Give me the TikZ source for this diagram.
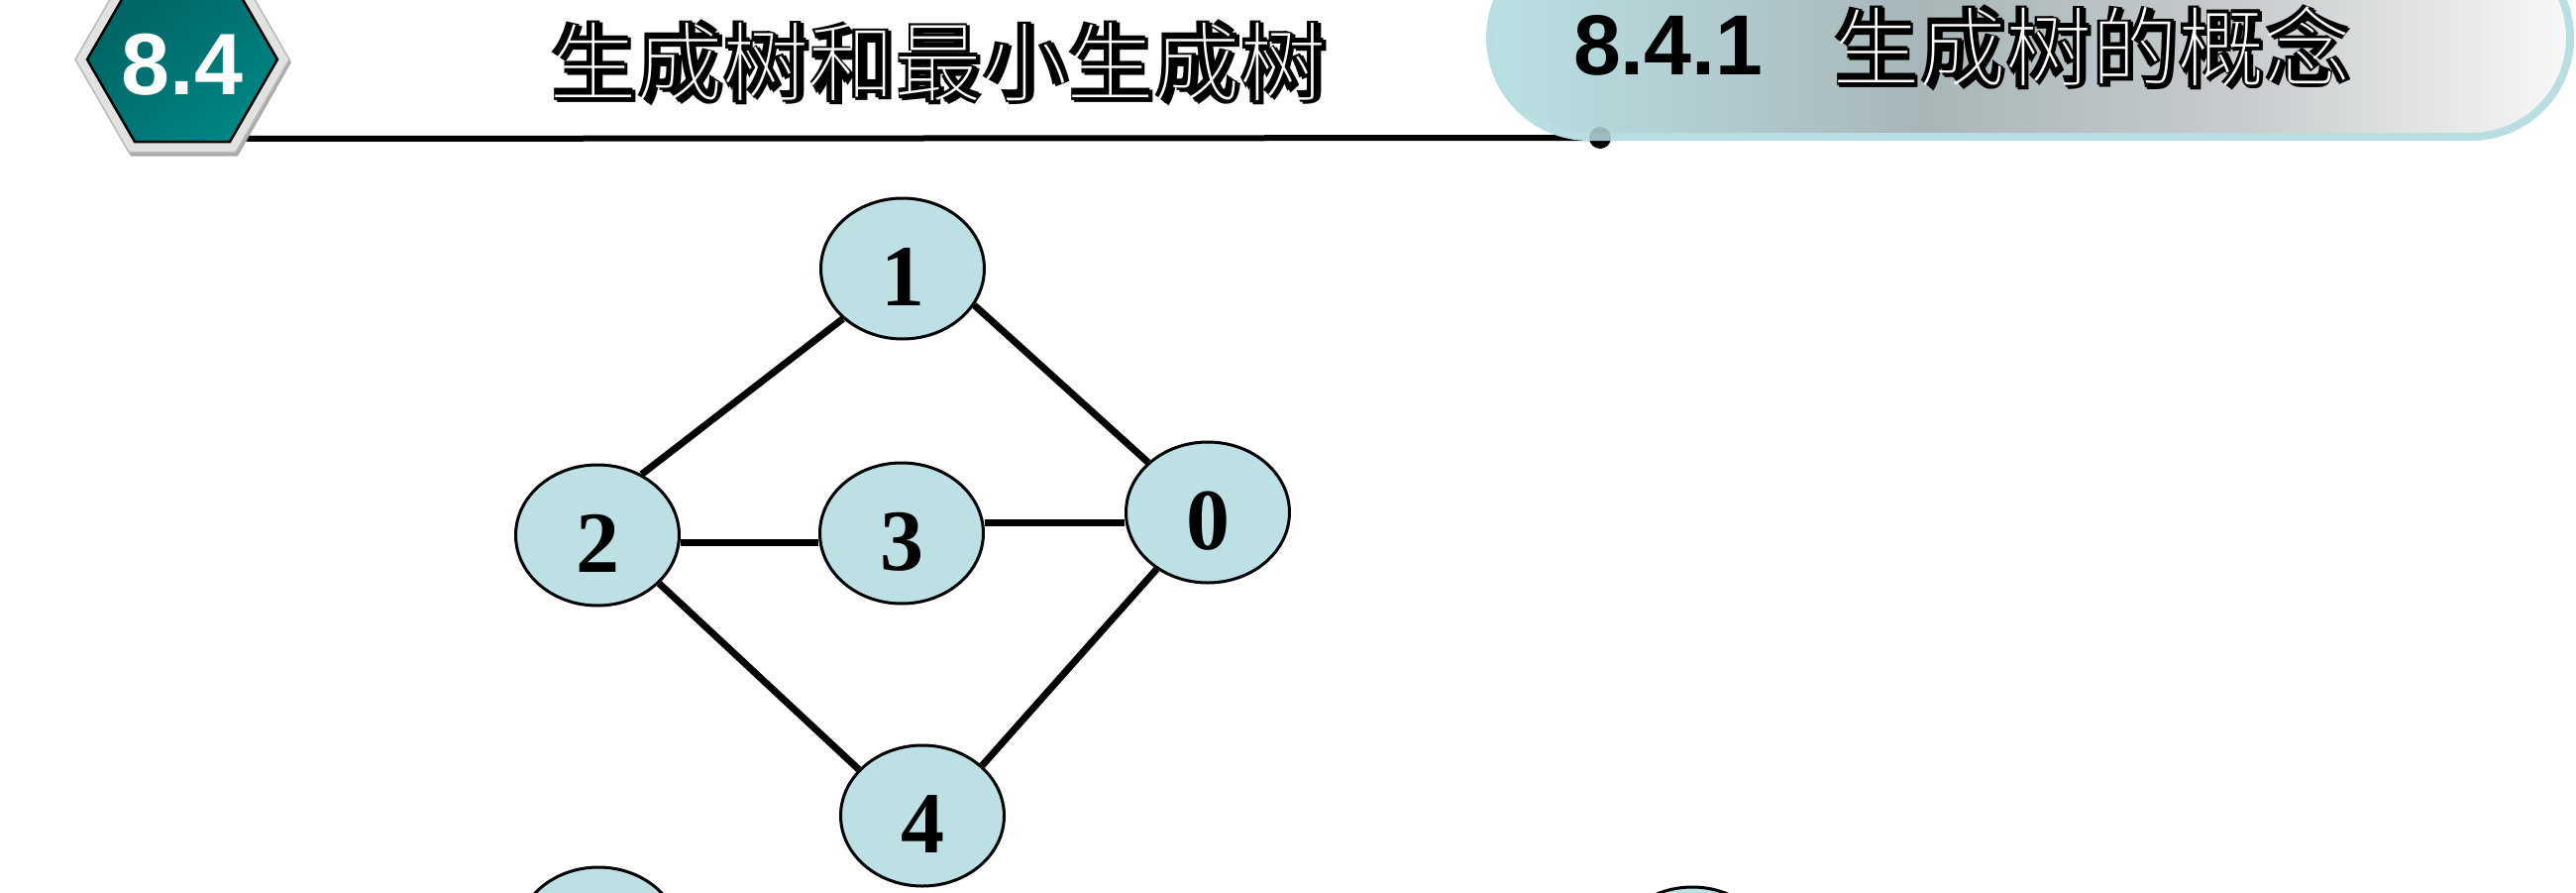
\documentclass[tikz,border=0pt]{standalone}
\usepackage{fontspec}
\setmainfont{Liberation Serif}
\newfontfamily\hsans{Liberation Sans}
\newfontfamily\cjk{Noto Sans CJK SC}
\newif\ifthinok
\IfFontExistsTF{Noto Sans CJK SC Thin}{\newfontfamily\cjkthin{Noto Sans CJK SC Thin}\thinoktrue}{%
  \IfFontExistsTF{Noto Sans CJK SC Light}{\newfontfamily\cjkthin{Noto Sans CJK SC Light}\thinoktrue}{\thinokfalse}}
\usetikzlibrary{shapes.geometric,calc,backgrounds,shadings}
\definecolor{nodefill}{RGB}{188,224,227}
\definecolor{tealD}{RGB}{0,92,92}
\definecolor{tealM}{RGB}{0,115,115}
\definecolor{tealL}{RGB}{0,140,140}
\definecolor{ringfill}{RGB}{226,226,226}
\definecolor{ringedge}{RGB}{185,185,185}
\definecolor{ringshadow}{RGB}{170,170,170}
\definecolor{pillborder}{RGB}{184,222,226}
\definecolor{pA}{RGB}{186,224,228}
\definecolor{pB}{RGB}{176,202,205}
\definecolor{pC}{RGB}{168,182,184}
\definecolor{pD}{RGB}{200,204,206}
\definecolor{pE}{RGB}{248,248,248}
\pgfdeclarehorizontalshading{pillshade}{100bp}{color(0bp)=(pA); color(25bp)=(pA); color(36bp)=(pB); color(45bp)=(pC); color(60bp)=(pD); color(75bp)=(pE); color(100bp)=(pE)}
\tikzset{
  vtx/.style={ellipse, draw=black, line width=3, fill=nodefill, minimum width=165, minimum height=142,
    inner sep=0, font=\bfseries\fontsize{88}{90}\selectfont, text height=74pt, text depth=0pt},
  edge/.style={line width=7, black},
  hline/.style={line width=6, black},
  hdot/.style={circle, fill=black, minimum size=22, inner sep=0},
  hnum/.style={font=\hsans\bfseries\fontsize{86}{90}\selectfont, inner sep=0, outer sep=0},
  engr/.style={font=\cjk\bfseries\fontsize{87}{96}\selectfont, inner sep=0, outer sep=0},
  engrthin/.style={font=\cjkthin\fontsize{87}{96}\selectfont, inner sep=0, outer sep=0, text=white},
}
\newcommand\engrave[4]{%
  \node[engr, anchor=#3, text=black] (#4s) at ($#1+(2.5,2.5)$) {#2};
  \node[engr, anchor=#3, text=black] (#4) at #1 {#2};
  \ifthinok\node[engrthin, anchor=#3] (#4t) at #1 {#2};\fi
}
\begin{document}
\begin{tikzpicture}[x=1pt,y=-1pt]
\useasboundingbox (0,0) rectangle (2600,900);
\clip (0,0) rectangle (2600,900);

% header rule with end dot
\coordinate (ls) at (240,140);
\node[hdot] (dot) at (1615,139) {};
\draw[hline] (ls) -- (dot.center);

% hexagon badge
\fill[ringshadow] (294,63) -- (240,157.5) -- (132,157.5) -- (78,63) -- (132,-30.5) -- (240,-30.5) -- cycle;
\filldraw[fill=ringfill, draw=ringedge, line width=1.5] (292,60) -- (238,153.5) -- (130,153.5) -- (76,60) -- (130,-33.5) -- (238,-33.5) -- cycle;
\shade[upper left=tealD, upper right=tealM, lower left=tealM, lower right=tealL] (280,60) -- (232,143) -- (136,143) -- (88,60) -- (136,-23) -- (232,-23) -- cycle;
\draw[black, line width=2.5] (280,60) -- (232,143) -- (136,143) -- (88,60) -- (136,-23) -- (232,-23) -- cycle;
\node[font=\hsans\bfseries\fontsize{88}{90}\selectfont, text=white, anchor=base, inner sep=0] (badge) at (184,95) {8.4};

% section pill
\shade[shading=pillshade, rounded corners=100pt] (1504,-62) rectangle (2594,138);
\draw[pillborder, line width=8, rounded corners=100pt] (1504,-62) rectangle (2594,138);
\fill[black, opacity=.15] (dot.center) circle (11);

% header texts
\node[hnum, anchor=base west] (secnum) at (1588,75) {8.4.1};
\engrave{(1850,80)}{生成树的概念}{base west}{sectitle}
\engrave{(947,95)}{生成树和最小生成树}{base}{title}

% graph
\node[vtx] (n1) at (911,271) {1};
\node[vtx] (n2) at (603,540) {2};
\node[vtx] (n3) at (910,538) {3};
\node[vtx] (n0) at (1219,517) {0};
\node[vtx] (n4) at (931,823) {4};
\node[vtx] (n5) at (604,946) {};
\node[vtx] (n6) at (1708,966) {};

\coordinate (h23) at (0,547);
\coordinate (h30) at (0,527);
\begin{pgfonlayer}{background}
\draw[edge] (n1.220) -- (n2.54);
\draw[edge] (n1.-27) -- (n0.140);
\draw[edge] (n2.east |- h23) -- (n3.west |- h23);
\draw[edge] (n3.east |- h30) -- (n0.west |- h30);
\draw[edge] (n2.-38) -- (n4.144);
\draw[edge] (n4.40) -- (n0.228);
\end{pgfonlayer}
\end{tikzpicture}
\end{document}
